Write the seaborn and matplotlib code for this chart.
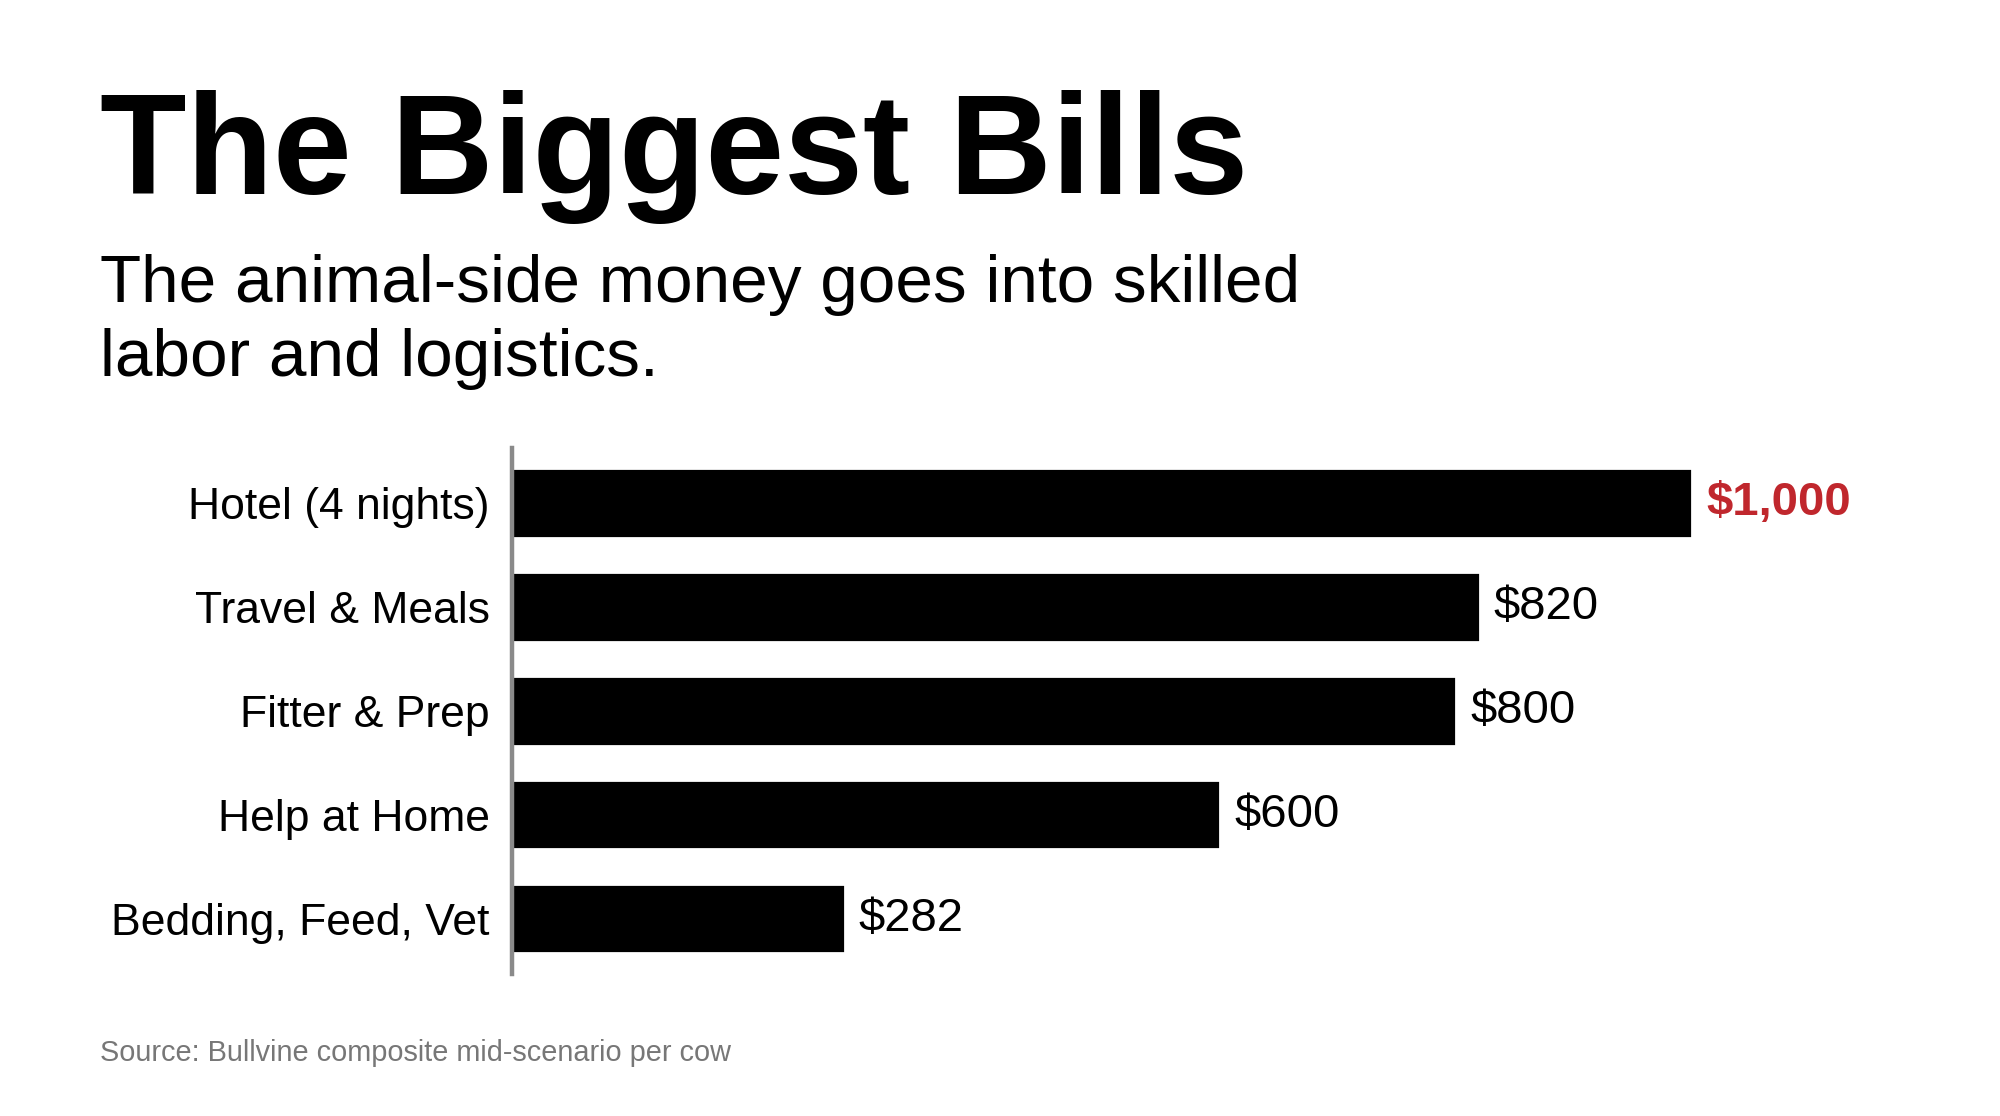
import matplotlib
matplotlib.use("Agg")
import matplotlib.pyplot as plt
import seaborn as sns
import pandas as pd

# data
categories = ["Hotel (4 nights)", "Travel & Meals", "Fitter & Prep",
              "Help at Home", "Bedding, Feed, Vet"]
costs = [1000, 820, 800, 600, 282]
value_labels = ["$1,000", "$820", "$800", "$600", "$282"]
highlight = "$1,000"

title = "The Biggest Bills"
subtitle_lines = ["The animal-side money goes into skilled",
                  "labor and logistics."]
source = "Source: Bullvine composite mid-scenario per cow"

sns.set_theme(style="white")
plt.rcParams['font.family'] = ['Liberation Sans', 'DejaVu Sans']

df = pd.DataFrame({"category": categories, "cost": costs})

fig = plt.figure(figsize=(10, 5.58), dpi=200)
ax = fig.add_axes([0.256, 0.127, 0.649, 0.472])

sns.barplot(data=df, y="category", x="cost", orient="h", color="black",
            width=0.67, saturation=1, ax=ax)

ax.set_xlim(0, 1100)
ax.set_ylim(len(categories) - 0.463, -0.537)
ax.set_xlabel("")
ax.set_ylabel("")
ax.set_xticks([])
ax.tick_params(axis="y", length=0, pad=8, labelsize=16, labelcolor="black")

for side in ["top", "right", "bottom"]:
    ax.spines[side].set_visible(False)
ax.spines["left"].set_color("#8a8a8a")
ax.spines["left"].set_linewidth(1.6)

for i, (v, lab) in enumerate(zip(costs, value_labels)):
    is_top = lab == highlight
    ax.text(v + 12, i, lab, va="center", ha="left", fontsize=17,
            color="#c0272d" if is_top else "black",
            fontweight="bold" if is_top else "normal")

fig.text(0.05, 0.826, title, fontsize=51, fontweight="bold",
         color="black", va="baseline", ha="left")
for k, line in enumerate(subtitle_lines):
    fig.text(0.05, 0.729 - k * 0.066, line, fontsize=24.3, color="black",
             va="baseline", ha="left")
fig.text(0.05, 0.049, source, fontsize=10.4, color="#777777",
         va="baseline", ha="left")

fig.savefig("out.png", dpi=200, facecolor="white")
